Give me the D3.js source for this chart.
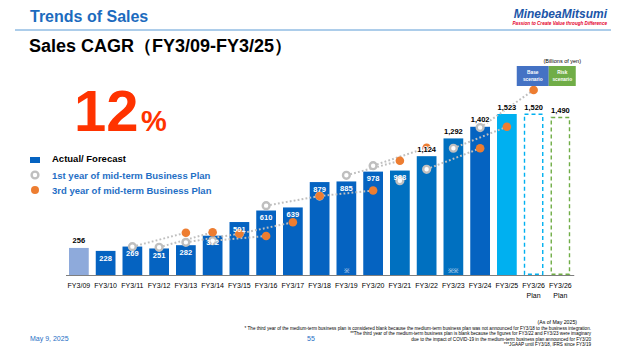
<!DOCTYPE html>
<html>
<head>
<meta charset="utf-8">
<script src="https://cdn.jsdelivr.net/npm/d3@7"></script>
<style>
  body { margin: 0; background: #fff; }
  svg { display: block; font-family: "Liberation Sans", Arial, sans-serif; }
</style>
</head>
<body>
<div id="chart"></div>
<script>
const categories = ["FY3/09", "FY3/10", "FY3/11", "FY3/12", "FY3/13", "FY3/14", "FY3/15", "FY3/16",
  "FY3/17", "FY3/18", "FY3/19", "FY3/20", "FY3/21", "FY3/22", "FY3/23", "FY3/24", "FY3/25",
  "FY3/26 Base", "FY3/26 Risk"];
const tickLabels = ["FY3/09", "FY3/10", "FY3/11", "FY3/12", "FY3/13", "FY3/14", "FY3/15", "FY3/16",
  "FY3/17", "FY3/18", "FY3/19", "FY3/20", "FY3/21", "FY3/22", "FY3/23", "FY3/24", "FY3/25",
  "FY3/26", "FY3/26"];
const subLabels = ["", "", "", "", "", "", "", "", "", "", "", "", "", "", "", "", "", "Plan", "Plan"];
const sales = [256, 228, 269, 251, 282, 372, 501, 610, 639, 879, 885, 978, 988, 1124, 1292, 1402, 1523, 1520, 1490];
// 1st year target of each mid-term plan (null = none)
const firstYearPlan = [null, null, 268, 262, 309, 324, 391, 656, null, 747, 943, 1034, 892, 1000, 1199, 1395, null, null, null];
// 3rd year target of each mid-term plan
const thirdYearPlan = [null, null, null, null, 400, 404, 391, 369, 499, 747, null, 799, 1081, 1204, null, 1199, 1403, 1750, null];
const blankMarks = { "FY3/19": "※", "FY3/23": "※※" };
const footnotes = [
  "* The third year of the medium-term business plan is considered blank because the medium-term business plan was not announced for FY3/18 to the business integration.",
  "**The third year of the medium-term business plan is blank because the figures for FY3/22 and FY3/23 were imaginary",
  "due to the impact of COVID-19 in the medium-term business plan announced for FY3/20",
  "***JGAAP until FY3/18, IFRS since FY3/19"
];

const width = 622, height = 350;
const blue = "#0563C1", textBlue = "#1F6FC5", grey = "#BFBFBF", orange = "#ED7D31";

const svg = d3.select("#chart").append("svg")
  .attr("width", width).attr("height", height);

// header
svg.append("text").attr("x", 30).attr("y", 22)
  .attr("font-size", 16).attr("font-weight", "bold").attr("fill", "#1C6BBE")
  .text("Trends of Sales");
svg.append("line").attr("x1", 15).attr("x2", 611).attr("y1", 30).attr("y2", 30)
  .attr("stroke", "#5B9BD5").attr("stroke-width", 1);
svg.append("text").attr("x", 607).attr("y", 18).attr("text-anchor", "end")
  .attr("font-size", 12).attr("font-weight", "bold").attr("font-style", "italic")
  .attr("fill", "#1B55A8").text("MinebeaMitsumi");
svg.append("text").attr("x", 607).attr("y", 25).attr("text-anchor", "end")
  .attr("font-size", 4.6).attr("font-style", "italic").attr("font-weight", "bold")
  .attr("fill", "#E4002B").text("Passion to Create Value through Difference");

svg.append("text").attr("x", 29).attr("y", 52)
  .attr("font-size", 18).attr("font-weight", "bold").attr("fill", "#000")
  .text("Sales CAGR（FY3/09-FY3/25）");

// big CAGR
svg.append("text").attr("x", 74).attr("y", 131)
  .attr("font-size", 58).attr("font-weight", "bold").attr("fill", "#FF3300").text("12");
svg.append("text").attr("x", 141).attr("y", 131)
  .attr("font-size", 29).attr("font-weight", "bold").attr("fill", "#FF3300").text("%");

// legend
const legend = svg.append("g").attr("font-size", 9.5).attr("font-weight", "bold");
legend.append("rect").attr("x", 30).attr("y", 157).attr("width", 10).attr("height", 6).attr("fill", blue);
legend.append("text").attr("x", 52).attr("y", 162).attr("fill", "#000").text("Actual/ Forecast");
legend.append("circle").attr("cx", 35).attr("cy", 175).attr("r", 3.4)
  .attr("fill", "#fff").attr("stroke", grey).attr("stroke-width", 2.4);
legend.append("text").attr("x", 52).attr("y", 178.5).attr("fill", textBlue).text("1st year of mid-term Business Plan");
legend.append("circle").attr("cx", 35).attr("cy", 190).attr("r", 4).attr("fill", orange);
legend.append("text").attr("x", 52).attr("y", 193.5).attr("fill", textBlue).text("3rd year of mid-term Business Plan");

// scales
const x = d3.scaleBand().domain(categories).range([65.5, 573.75])
  .paddingInner(0.262).paddingOuter(0.131);
const y = d3.scaleLinear().domain([0, 1523]).range([275, 114]);
const bw = x.bandwidth();
const cx = (i) => x(categories[i]) + bw / 2;

// bars
const bars = svg.append("g");
sales.forEach((v, i) => {
  const c = categories[i];
  const isPlan = i >= 17;
  let fill = blue;
  if (i === 0) fill = "#8EAADB";
  else if (i === 16) fill = "#00B0F0";
  else if (i >= 12 && i <= 14) fill = "#0070C0";
  if (isPlan) {
    bars.append("rect").attr("x", x(c) + 0.75).attr("y", y(v))
      .attr("width", bw - 1.5).attr("height", y(0) - y(v) - 0.75)
      .attr("fill", "none").attr("stroke", i === 17 ? "#00B0F0" : "#70AD47")
      .attr("stroke-width", 1.4).attr("stroke-dasharray", "4,3");
  } else {
    bars.append("rect").attr("x", x(c)).attr("y", y(v))
      .attr("width", bw).attr("height", y(0) - y(v)).attr("fill", fill);
  }
});

// blank plan marks
Object.entries(blankMarks).forEach(([c, m]) => {
  svg.append("text").attr("x", x(c) + bw / 2).attr("y", 272.5).attr("text-anchor", "middle")
    .attr("font-size", 6.5).attr("fill", "#E8EEF8").text(m);
});

// axis
const axis = svg.append("g").attr("transform", "translate(0,275)")
  .call(d3.axisBottom(x).tickSize(0).tickPadding(8).tickFormat((d, i) => tickLabels[i]));
axis.select(".domain").attr("stroke", "#7F7F7F").attr("stroke-width", 1);
axis.selectAll(".tick text").attr("font-size", 7).attr("fill", "#000")
  .attr("font-family", "Liberation Sans, Arial, sans-serif");
subLabels.forEach((s, i) => {
  if (!s) return;
  svg.append("text").attr("x", cx(i)).attr("y", 298).attr("text-anchor", "middle")
    .attr("font-size", 7).attr("fill", "#000").text(s);
});

// plan lines: 1st year target -> 3rd year target of the same plan
const lines = svg.append("g").attr("fill", "none").attr("stroke", grey)
  .attr("stroke-width", 2).attr("stroke-dasharray", "1.8,2.2");
firstYearPlan.forEach((v, i) => {
  const w = thirdYearPlan[i + 2];
  if (v == null || w == null) return;
  lines.append("line").attr("x1", cx(i)).attr("y1", y(v)).attr("x2", cx(i + 2)).attr("y2", y(w));
});

// markers
firstYearPlan.forEach((v, i) => {
  if (v == null) return;
  svg.append("circle").attr("cx", cx(i)).attr("cy", y(v)).attr("r", 3.4)
    .attr("fill", "#fff").attr("stroke", grey).attr("stroke-width", 2.4);
});
thirdYearPlan.forEach((v, i) => {
  if (v == null) return;
  svg.append("circle").attr("cx", cx(i)).attr("cy", y(v)).attr("r", 4.3).attr("fill", orange);
});

// value labels (drawn over the markers)
const fmt = d3.format(",");
sales.forEach((v, i) => {
  const above = i === 0 || v >= 1100;
  svg.append("text").attr("x", cx(i))
    .attr("y", above ? y(v) - 4.5 : y(v) + 9.8)
    .attr("text-anchor", "middle").attr("font-size", 7.5).attr("font-weight", "bold")
    .attr("fill", above ? "#000" : "#fff")
    .attr("stroke", above ? "#fff" : "none").attr("stroke-width", 1.5).attr("paint-order", "stroke")
    .text(fmt(v));
});

// scenario boxes and unit
svg.append("text").attr("x", 581).attr("y", 63).attr("text-anchor", "end")
  .attr("font-size", 5.5).attr("fill", "#000").text("(Billions of yen)");
const bx = x("FY3/26 Base") - 7;
[["Base", "scenario", "#4472C4", bx, 32], ["Risk", "scenario", "#70AD47", bx + 32, 27]].forEach(([a, b, col, x0, w]) => {
  svg.append("rect").attr("x", x0).attr("y", 66).attr("width", w).attr("height", 20).attr("fill", col);
  svg.append("text").attr("x", x0 + w / 2).attr("y", 74).attr("text-anchor", "middle")
    .attr("font-size", 4.8).attr("font-weight", "bold").attr("fill", "#fff").text(a);
  svg.append("text").attr("x", x0 + w / 2).attr("y", 80.5).attr("text-anchor", "middle")
    .attr("font-size", 4.8).attr("font-weight", "bold").attr("fill", "#fff").text(b);
});

// footer
svg.append("text").attr("x", 577).attr("y", 323.5).attr("text-anchor", "end")
  .attr("font-size", 5.2).attr("fill", "#000").text("(As of May 2025)");
footnotes.forEach((t, i) => {
  svg.append("text").attr("x", 591).attr("y", 330 + i * 5.3).attr("text-anchor", "end")
    .attr("font-size", 4.6).attr("fill", "#000").text(t);
});
svg.append("text").attr("x", 30).attr("y", 341).attr("font-size", 7).attr("fill", textBlue).text("May 9, 2025");
svg.append("text").attr("x", 311).attr("y", 341).attr("text-anchor", "middle")
  .attr("font-size", 7).attr("fill", textBlue).text("55");
</script>
</body>
</html>
